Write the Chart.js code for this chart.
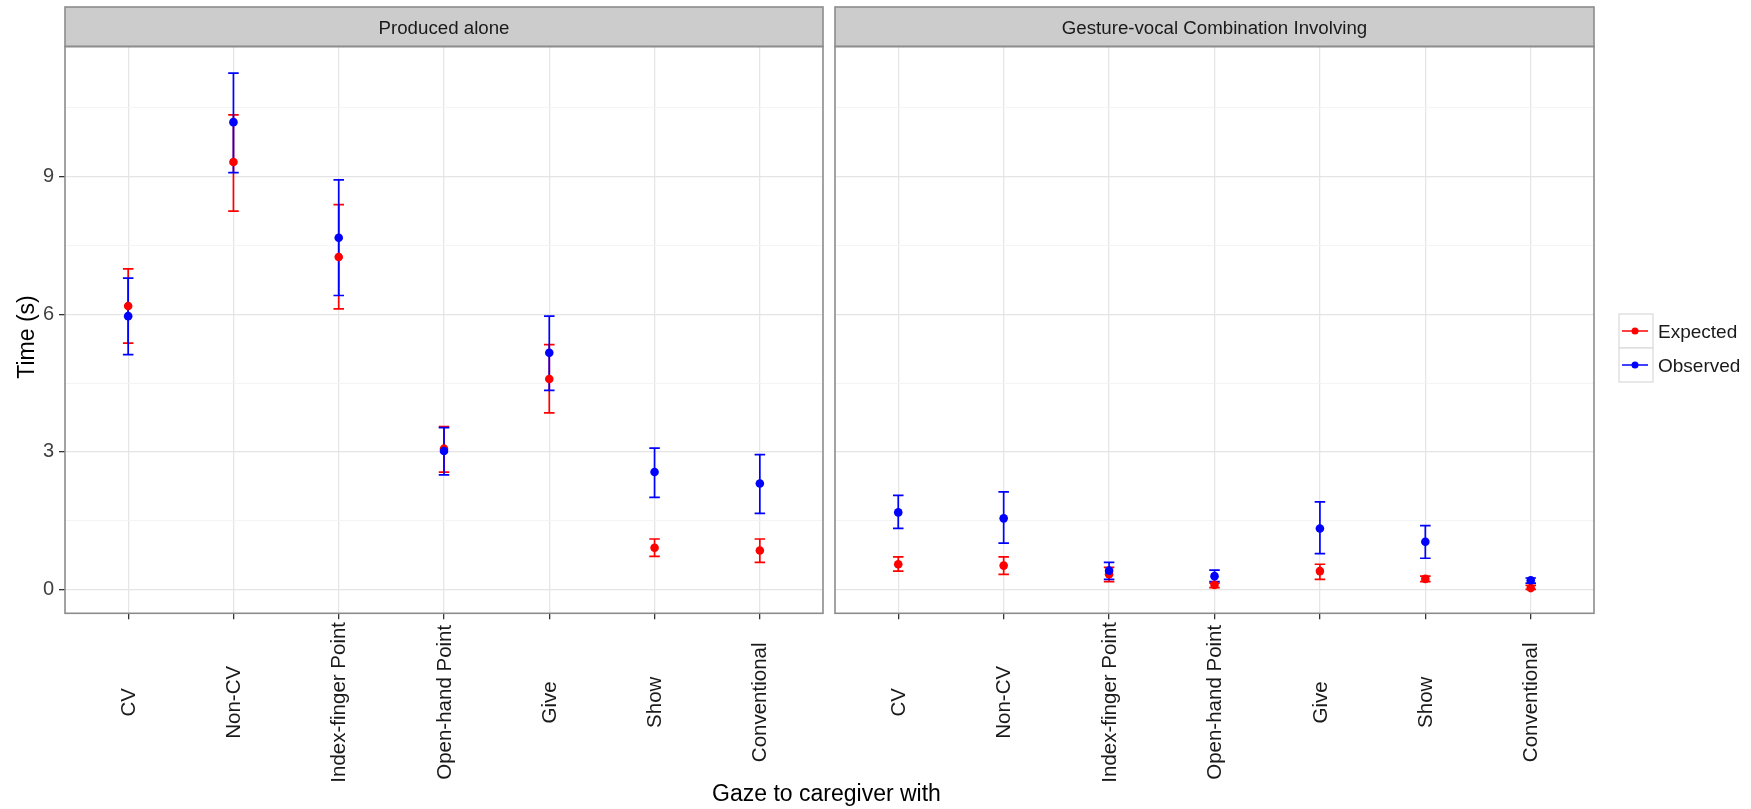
<!DOCTYPE html>
<html lang="en">
<head>
<meta charset="UTF-8">
<title>Gaze to caregiver with</title>
<script src="https://cdn.jsdelivr.net/npm/chart.js"></script>
<style>
  html, body { margin: 0; padding: 0; background: #fff; }
  body { width: 1751px; height: 809px; position: relative; overflow: hidden; font-family: "Liberation Sans", Arial, sans-serif; }
  #leftChart { position: absolute; left: 0; top: 0; }
  #rightChart { position: absolute; left: 828px; top: 0; }
  #xTitle { position: absolute; left: 0; width: 1653px; top: 782px; text-align: center; font-size: 23px; line-height: 23px; color: #000; }
</style>
</head>
<body>
<canvas id="leftChart" width="830" height="809"></canvas>
<canvas id="rightChart" width="923" height="809"></canvas>
<div id="xTitle">Gaze to caregiver with</div>

<script>
// categories shared by both panels
const categories = ['CV', 'Non-CV', 'Index-finger Point', 'Open-hand Point', 'Give', 'Show', 'Conventional'];
const yTicks = [0, 3, 6, 9];

// Produced alone
const aloneExpected   = [6.18, 9.32, 7.25, 3.07, 4.59, 0.91, 0.85];
const aloneExpectedLo = [5.37, 8.25, 6.12, 2.56, 3.85, 0.72, 0.59];
const aloneExpectedHi = [6.99, 10.35, 8.39, 3.55, 5.34, 1.10, 1.10];
const aloneObserved   = [5.96, 10.19, 7.67, 3.02, 5.16, 2.56, 2.31];
const aloneObservedLo = [5.12, 9.09, 6.41, 2.50, 4.34, 2.01, 1.66];
const aloneObservedHi = [6.79, 11.26, 8.93, 3.53, 5.96, 3.08, 2.94];

// Gesture-vocal combination
const comboExpected   = [0.55, 0.52, 0.33, 0.10, 0.40, 0.23, 0.03];
const comboExpectedLo = [0.40, 0.33, 0.17, 0.04, 0.22, 0.17, 0.00];
const comboExpectedHi = [0.71, 0.71, 0.48, 0.14, 0.55, 0.29, 0.09];
const comboObserved   = [1.68, 1.55, 0.41, 0.29, 1.33, 1.04, 0.20];
const comboObservedLo = [1.33, 1.01, 0.22, 0.17, 0.78, 0.68, 0.14];
const comboObservedHi = [2.05, 2.13, 0.59, 0.42, 1.91, 1.39, 0.25];

const FONT = '"Liberation Sans", Arial, sans-serif';
Chart.defaults.font.family = FONT;

const yMinor = yTicks.map(v => v + 1.5);
const yGrid = yTicks.concat(yMinor).sort((a, b) => a - b);
const isMajor = v => yTicks.includes(v);

// error bars drawn under the points
const errorBars = {
  id: 'errorBars',
  beforeDatasetsDraw(chart) {
    const { ctx, scales: { x, y } } = chart;
    ctx.save();
    ctx.lineWidth = 1.7;
    chart.data.datasets.forEach(ds => {
      ctx.strokeStyle = ds.borderColor;
      ds.lo.forEach((lo, i) => {
        const px = x.getPixelForValue(i);
        const a = x.getPixelForValue(i - 0.05), b = x.getPixelForValue(i + 0.05);
        const y0 = y.getPixelForValue(lo), y1 = y.getPixelForValue(ds.hi[i]);
        ctx.beginPath();
        ctx.moveTo(px, y0); ctx.lineTo(px, y1);
        ctx.moveTo(a, y0); ctx.lineTo(b, y0);
        ctx.moveTo(a, y1); ctx.lineTo(b, y1);
        ctx.stroke();
      });
    });
    ctx.restore();
  }
};

// strip on top, panel border, rotated category labels, y title, legend
const facet = {
  id: 'facet',
  afterDraw(chart, args, opts) {
    const { ctx, chartArea: ca, scales: { x } } = chart;
    ctx.save();
    // strip
    ctx.fillStyle = '#cccccc';
    ctx.fillRect(ca.left, 7, ca.right - ca.left, ca.top - 7);
    ctx.strokeStyle = '#8c8c8c';
    ctx.lineWidth = 1.6;
    ctx.strokeRect(ca.left, 7, ca.right - ca.left, ca.top - 7);
    ctx.fillStyle = '#1a1a1a';
    ctx.font = '18.7px ' + FONT;
    ctx.textAlign = 'center';
    ctx.textBaseline = 'middle';
    ctx.fillText(opts.title, (ca.left + ca.right) / 2, (ca.top + 7) / 2 + 2);
    // panel border
    ctx.strokeRect(ca.left, ca.top, ca.right - ca.left, ca.bottom - ca.top);
    // category labels, centred on a common line
    ctx.fillStyle = '#1a1a1a';
    ctx.font = '20.5px ' + FONT;
    categories.forEach((c, i) => {
      ctx.save();
      ctx.translate(x.getPixelForValue(i) + 1, ca.bottom + 89);
      ctx.rotate(-Math.PI / 2);
      ctx.fillText(c, 0, 0);
      ctx.restore();
    });
    // y axis title
    if (opts.yTitle) {
      ctx.save();
      ctx.fillStyle = '#000';
      ctx.font = '23px ' + FONT;
      ctx.translate(28, 337);
      ctx.rotate(-Math.PI / 2);
      ctx.fillText(opts.yTitle, 0, 0);
      ctx.restore();
    }
    // legend
    if (opts.legend) {
      const bx = ca.right + 25, by = 314, k = 34;
      chart.data.datasets.forEach((ds, j) => {
        const top = by + j * k;
        ctx.fillStyle = '#fff';
        ctx.fillRect(bx, top, k, k);
        ctx.strokeStyle = '#d9d9d9';
        ctx.lineWidth = 1.2;
        ctx.strokeRect(bx, top, k, k);
        ctx.strokeStyle = ds.borderColor;
        ctx.lineWidth = 1.5;
        ctx.beginPath();
        ctx.moveTo(bx + 3, top + k / 2); ctx.lineTo(bx + k - 5, top + k / 2);
        ctx.stroke();
        ctx.fillStyle = ds.backgroundColor;
        ctx.beginPath();
        ctx.arc(bx + k / 2 - 1, top + k / 2, 3.5, 0, Math.PI * 2);
        ctx.fill();
        ctx.fillStyle = '#1a1a1a';
        ctx.font = '19px ' + FONT;
        ctx.textAlign = 'left';
        ctx.fillText(ds.label, bx + k + 5, top + k / 2 + 2);
      });
    }
    ctx.restore();
  }
};

function series(label, color, vals, lo, hi, order) {
  return {
    label, order, lo, hi,
    data: vals.map((v, i) => ({ x: i, y: v })),
    backgroundColor: color, borderColor: color,
    pointRadius: 4.3, pointBorderWidth: 0, pointHoverRadius: 4.3,
    showLine: false
  };
}

function makePanel(id, title, showY, legend, padRight, exp, expLo, expHi, obs, obsLo, obsHi) {
  return new Chart(document.getElementById(id), {
    type: 'scatter',
    data: {
      datasets: [
        series('Expected', '#ff0000', exp, expLo, expHi, 2),
        series('Observed', '#0000ff', obs, obsLo, obsHi, 1)
      ]
    },
    options: {
      responsive: false,
      animation: false,
      events: [],
      layout: { autoPadding: false, padding: { top: 46.5, left: 0, right: padRight, bottom: 0 } },
      plugins: {
        legend: { display: false },
        tooltip: { enabled: false },
        facet: { title, legend, yTitle: showY ? 'Time (s)' : '' }
      },
      scales: {
        x: {
          type: 'linear', min: -0.6, max: 6.6, bounds: 'data',
          afterBuildTicks: s => { s.ticks = categories.map((c, i) => ({ value: i })); },
          afterFit: s => { s.height = 809 - 613.3; },
          ticks: { display: false },
          grid: { color: '#e6e6e6', lineWidth: 1.3, drawTicks: true, tickLength: 6, tickColor: '#333' },
          border: { display: false }
        },
        y: {
          min: -0.52, max: 11.84,
          afterBuildTicks: s => { s.ticks = yGrid.map(v => ({ value: v })); },
          afterFit: s => { s.width = showY ? 65 : 7; },
          ticks: {
            display: showY,
            callback: v => isMajor(v) ? String(v) : '',
            font: { size: 20 }, color: '#404040', padding: 5
          },
          grid: {
            color: c => isMajor(c.tick.value) ? '#e4e4e4' : '#f3f3f3',
            lineWidth: c => isMajor(c.tick.value) ? 1.3 : 0.9,
            drawTicks: showY, tickLength: 6,
            tickColor: c => isMajor(c.tick.value) ? '#333' : 'rgba(0,0,0,0)'
          },
          border: { display: false }
        }
      }
    },
    plugins: [errorBars, facet]
  });
}

makePanel('leftChart', 'Produced alone', true, false, 7,
  aloneExpected, aloneExpectedLo, aloneExpectedHi, aloneObserved, aloneObservedLo, aloneObservedHi);
makePanel('rightChart', 'Gesture-vocal Combination Involving', false, true, 157,
  comboExpected, comboExpectedLo, comboExpectedHi, comboObserved, comboObservedLo, comboObservedHi);
</script>
</body>
</html>
